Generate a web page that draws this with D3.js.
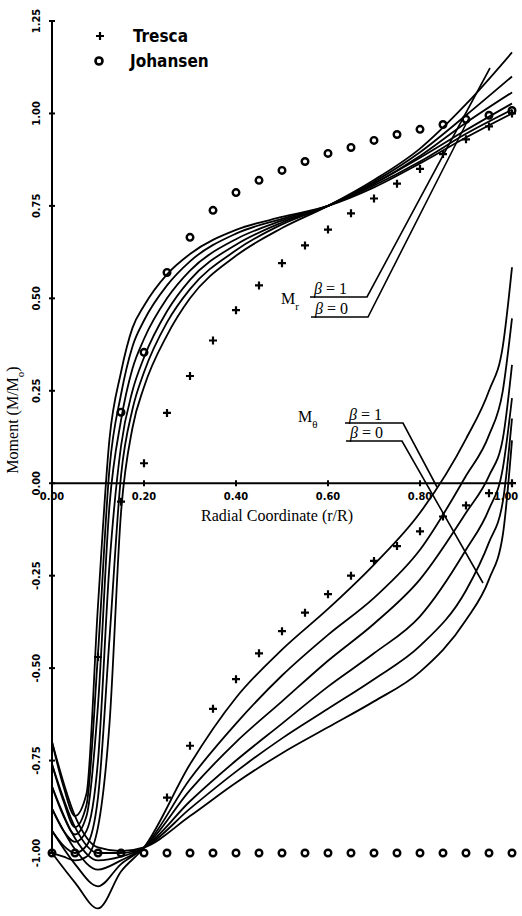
<!DOCTYPE html>
<html>
<head>
<meta charset="utf-8">
<script src="https://cdn.jsdelivr.net/npm/d3@7"></script>
<style>
  body { margin: 0; background: #fff; }
  svg { display: block; }
</style>
</head>
<body>
<svg width="522" height="916"></svg>
<script>
// radial positions where the M_r curves were read
const rGridR = [0, 0.025, 0.05, 0.075, 0.1, 0.125, 0.15, 0.175, 0.2, 0.25, 0.3, 0.4, 0.5, 0.6, 0.7, 0.8, 0.9, 1.0]
// M_r curves, beta = 0 .. 1
const mrCurves = [
  [-0.70, -0.82, -0.90, -0.84, -0.33, 0.12, 0.30, 0.42, 0.48, 0.565, 0.62, 0.685, 0.72, 0.75, 0.80, 0.865, 0.935, 1.00],
  [-0.76, -0.86, -0.93, -0.87, -0.46, 0.04, 0.24, 0.37, 0.44, 0.535, 0.60, 0.675, 0.715, 0.75, 0.805, 0.87, 0.945, 1.01],
  [-0.82, -0.90, -0.95, -0.90, -0.60, -0.06, 0.17, 0.31, 0.39, 0.50, 0.575, 0.66, 0.71, 0.75, 0.81, 0.88, 0.955, 1.027],
  [-0.88, -0.94, -0.97, -0.94, -0.75, -0.22, 0.10, 0.25, 0.34, 0.465, 0.55, 0.645, 0.705, 0.75, 0.81, 0.885, 0.975, 1.057],
  [-0.94, -0.98, -1.00, -0.98, -0.85, -0.42, 0.02, 0.20, 0.30, 0.435, 0.525, 0.63, 0.70, 0.75, 0.815, 0.895, 0.995, 1.10],
  [-1.00, -1.01, -1.02, -1.01, -0.93, -0.65, -0.08, 0.15, 0.26, 0.40, 0.50, 0.615, 0.69, 0.75, 0.82, 0.905, 1.025, 1.165]
]

// radial positions where the M_theta curves were read
const rGridT = [0, 0.05, 0.1, 0.15, 0.2, 0.3, 0.4, 0.5, 0.6, 0.7, 0.8, 0.9, 0.95, 0.98, 1.0]
// M_theta curves, beta = 0 .. 1
const mtCurves = [
  [-0.70, -0.90, -0.985, -0.995, -0.985, -0.90, -0.81, -0.73, -0.66, -0.59, -0.51, -0.37, -0.26, -0.14, 0.116],
  [-0.76, -0.93, -1.00, -1.00, -0.985, -0.88, -0.78, -0.69, -0.61, -0.53, -0.44, -0.29, -0.16, -0.05, 0.175],
  [-0.82, -0.96, -1.02, -1.01, -0.985, -0.86, -0.75, -0.65, -0.55, -0.46, -0.36, -0.18, -0.07, 0.04, 0.23],
  [-0.88, -0.99, -1.045, -1.02, -0.985, -0.83, -0.70, -0.59, -0.48, -0.38, -0.26, -0.08, 0.02, 0.12, 0.32],
  [-0.94, -1.03, -1.09, -1.03, -0.985, -0.80, -0.65, -0.52, -0.41, -0.31, -0.18, 0.02, 0.13, 0.25, 0.446],
  [-1.00, -1.08, -1.15, -1.05, -0.985, -0.76, -0.58, -0.45, -0.34, -0.22, -0.08, 0.12, 0.25, 0.37, 0.584]
]

// Tresca solution (+)
const trescaR = [0.10, 0.15, 0.20, 0.25, 0.30, 0.35, 0.40, 0.45, 0.50, 0.55, 0.60, 0.65, 0.70, 0.75, 0.80, 0.85, 0.90, 0.95, 1.00]
const trescaMr = [-0.47, -0.05, 0.054, 0.19, 0.29, 0.386, 0.468, 0.535, 0.595, 0.643, 0.686, 0.73, 0.77, 0.81, 0.85, 0.89, 0.93, 0.965, 1.00]
const trescaTR = [0.25, 0.30, 0.35, 0.40, 0.45, 0.50, 0.55, 0.60, 0.65, 0.70, 0.75, 0.80, 0.85, 0.90, 0.95, 1.00]
const trescaMt = [-0.85, -0.71, -0.61, -0.53, -0.46, -0.40, -0.35, -0.30, -0.25, -0.21, -0.17, -0.13, -0.09, -0.06, -0.027, 0.0]

// Johansen solution (o)
const johR = [0.15, 0.20, 0.25, 0.30, 0.35, 0.40, 0.45, 0.50, 0.55, 0.60, 0.65, 0.70, 0.75, 0.80, 0.85, 0.90, 0.95, 1.00]
const johMr = [0.192, 0.354, 0.57, 0.665, 0.738, 0.786, 0.819, 0.846, 0.87, 0.892, 0.908, 0.927, 0.943, 0.957, 0.97, 0.984, 0.995, 1.008]
const johTR = [0, 0.05, 0.10, 0.15, 0.20, 0.25, 0.30, 0.35, 0.40, 0.45, 0.50, 0.55, 0.60, 0.65, 0.70, 0.75, 0.80, 0.85, 0.90, 0.95, 1.00]
const johMt = [-1, -1, -1, -1, -1, -1, -1, -1, -1, -1, -1, -1, -1, -1, -1, -1, -1, -1, -1, -1, -1]

const xTicks = [0, 0.2, 0.4, 0.6, 0.8, 1.0]
const yTicks = [-1.0, -0.75, -0.5, -0.25, 0, 0.25, 0.5, 0.75, 1.0, 1.25]

let svg = d3.select('svg')
let x = d3.scaleLinear().domain([0, 1]).range([52, 512])
let y = d3.scaleLinear().domain([-1, 1.25]).range([853, 21])

let line = d3.line()
  .x(d => x(d[0]))
  .y(d => y(d[1]))
  .curve(d3.curveMonotoneX)

// curves
let curves = svg.append('g')
  .attr('fill', 'none')
  .attr('stroke', '#000')
  .attr('stroke-width', 1.8)
mrCurves.forEach(c => {
  curves.append('path').attr('d', line(rGridR.map((r, i) => [r, c[i]])))
})
mtCurves.forEach(c => {
  curves.append('path').attr('d', line(rGridT.map((r, i) => [r, c[i]])))
})

// axes
let fTick = d => d.toFixed(2)
let tickFont = 'DejaVu Sans Condensed, DejaVu Sans'
let yAxis = svg.append('g').attr('transform', 'translate(52,0)')
yAxis.append('line').attr('y1', y(1.25)).attr('y2', y(-1)).attr('stroke', '#000').attr('stroke-width', 2)
yAxis.selectAll('.yt').data(yTicks).enter().append('line')
  .attr('x1', -3).attr('x2', 3).attr('y1', d => y(d)).attr('y2', d => y(d))
  .attr('stroke', '#000').attr('stroke-width', 2)
yAxis.selectAll('text').data(yTicks).enter().append('text')
  .attr('transform', d => 'translate(-12,' + y(d) + ') rotate(-90)')
  .attr('text-anchor', 'middle')
  .attr('font-family', tickFont)
  .attr('font-weight', 'bold')
  .attr('font-size', 11)
  .text(fTick)

let xAxis = svg.append('g').attr('transform', 'translate(0,' + y(0) + ')')
xAxis.append('line').attr('x1', x(0)).attr('x2', x(1)).attr('stroke', '#000').attr('stroke-width', 2)
xAxis.selectAll('.xt').data(xTicks).enter().append('line')
  .attr('x1', d => x(d)).attr('x2', d => x(d)).attr('y1', -3).attr('y2', 3)
  .attr('stroke', '#000').attr('stroke-width', 2)
xAxis.selectAll('text').data(xTicks).enter().append('text')
  .attr('x', d => Math.min(x(d), 506)).attr('y', 17)
  .attr('text-anchor', 'middle')
  .attr('font-family', tickFont)
  .attr('font-weight', 'bold')
  .attr('font-size', 11)
  .text(fTick)

svg.append('text')
  .attr('x', 277).attr('y', 521)
  .attr('text-anchor', 'middle')
  .attr('font-family', 'Liberation Serif')
  .attr('font-size', 16)
  .text('Radial Coordinate (r/R)')

svg.append('text')
  .attr('transform', 'translate(18,420) rotate(-90)')
  .attr('text-anchor', 'middle')
  .attr('font-family', 'Liberation Serif')
  .attr('font-size', 16)
  .html('Moment (M/M<tspan baseline-shift="sub" font-size="11">o</tspan>)')

// Tresca plus marks
let pts = trescaR.map((r, i) => [r, trescaMr[i]]).concat(trescaTR.map((r, i) => [r, trescaMt[i]]))
svg.append('g').selectAll('path').data(pts).enter().append('path')
  .attr('transform', d => 'translate(' + x(d[0]) + ',' + y(d[1]) + ')')
  .attr('d', 'M-4,0H4M0,-4V4')
  .attr('stroke', '#000').attr('stroke-width', 2.2)

// Johansen circles
let jpts = johR.map((r, i) => [r, johMr[i]]).concat(johTR.map((r, i) => [r, johMt[i]]))
svg.append('g').selectAll('circle').data(jpts).enter().append('circle')
  .attr('cx', d => x(d[0])).attr('cy', d => y(d[1])).attr('r', 3.3)
  .attr('fill', 'none').attr('stroke', '#000').attr('stroke-width', 2.4)

// legend
let legend = svg.append('g').attr('font-family', tickFont).attr('font-weight', 'bold').attr('font-size', 17)
legend.append('path').attr('d', 'M96,36H104M100,32V40').attr('stroke', '#000').attr('stroke-width', 2.2)
legend.append('text').attr('x', 133).attr('y', 42).text('Tresca')
legend.append('circle').attr('cx', 99).attr('cy', 61).attr('r', 3.5).attr('fill', 'none').attr('stroke', '#000').attr('stroke-width', 2.6)
legend.append('text').attr('x', 130).attr('y', 67).text('Johansen')

// beta labels with leader lines
function betaLabel(lx, ly, name, sub, leaders) {
  let g = svg.append('g').attr('font-family', 'Liberation Serif').attr('font-size', 16)
  g.append('text').attr('x', lx).attr('y', ly + 4)
    .html(name + '<tspan baseline-shift="sub" font-size="11">' + sub + '</tspan>')
  leaders.forEach(l => {
    g.append('text').attr('x', l.x0 + 4).attr('y', l.y - 3).attr('font-style', 'italic')
      .html('β<tspan font-style="normal"> =  ' + l.b + '</tspan>')
    g.append('path')
      .attr('d', 'M' + l.x0 + ',' + l.y + 'H' + l.x1 + 'L' + l.ex + ',' + l.ey)
      .attr('fill', 'none').attr('stroke', '#000').attr('stroke-width', 1.6)
  })
}
betaLabel(281, 300, 'M', 'r', [
  { b: 1, x0: 310, x1: 367, y: 297, ex: 490, ey: 68 },
  { b: 0, x0: 311, x1: 368, y: 317, ex: 469, ey: 118 }
])
betaLabel(298, 418, 'M', 'θ', [
  { b: 1, x0: 345, x1: 403, y: 423, ex: 437, ey: 487 },
  { b: 0, x0: 346, x1: 402, y: 441, ex: 483, ey: 583 }
])
</script>
</body>
</html>
